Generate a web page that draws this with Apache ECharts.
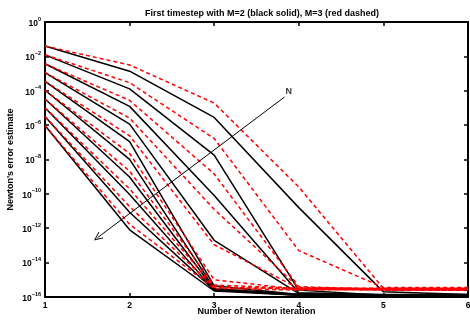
<!DOCTYPE html>
<html>
<head>
<meta charset="utf-8">
<script src="https://cdn.jsdelivr.net/npm/echarts@6/dist/echarts.min.js"></script>
<style>
  html, body { margin: 0; padding: 0; background: #fff; }
  #chart { width: 470px; height: 320px; }
</style>
</head>
<body>
<div id="chart"></div>
<script>
// Newton iteration number (x axis)
const iterations = [1, 2, 3, 4, 5, 6]

// log10 of the error estimate, one row per N (top row = smallest N)
const blackLog10 = [
  [-1.40, -2.86, -5.55, -10.8, -15.7, -15.85],
  [-1.91, -3.89, -7.75, -15.6, -15.9, -15.9],
  [-2.43, -4.91, -10.1, -15.75, -15.85, -15.85],
  [-2.94, -5.94, -12.7, -15.8, -15.95, -15.95],
  [-3.45, -6.96, -15.35, -15.85, -15.9, -15.9],
  [-3.97, -7.99, -15.5, -15.85, -15.95, -15.95],
  [-4.48, -9.02, -15.55, -15.9, -15.9, -15.9],
  [-4.99, -10.04, -15.6, -15.85, -15.95, -15.95],
  [-5.50, -11.07, -15.6, -15.9, -15.9, -15.9],
  [-6.02, -12.09, -15.65, -15.9, -15.95, -15.95],
]
const redLog10 = [
  [-1.40, -2.50, -4.72, -9.6, -15.5, -15.5],
  [-1.91, -3.53, -6.78, -13.3, -15.45, -15.45],
  [-2.43, -4.56, -8.84, -15.4, -15.55, -15.55],
  [-2.94, -5.59, -10.9, -15.45, -15.5, -15.5],
  [-3.45, -6.62, -12.96, -15.5, -15.6, -15.6],
  [-3.97, -7.65, -15.0, -15.55, -15.5, -15.5],
  [-4.48, -8.68, -15.3, -15.5, -15.55, -15.55],
  [-4.99, -9.71, -15.4, -15.55, -15.6, -15.6],
  [-5.50, -10.74, -15.45, -15.5, -15.5, -15.5],
  [-6.02, -11.77, -15.5, -15.6, -15.55, -15.55],
]

// "N" arrow annotation: [iteration, log10 error]
const arrowFrom = [3.83, -4.37]
const arrowTo = [1.62, -12.55]
const arrowLabelAt = [3.88, -4.05]

const xTicks = [1, 2, 3, 4, 5, 6]
const yTickExps = [0, -2, -4, -6, -8, -10, -12, -14, -16]

const font = '"Liberation Sans", Arial, Helvetica, sans-serif'
const toPoints = (row) => row.map((e, i) => [iterations[i], Math.pow(10, e)])

const series = []
blackLog10.forEach((row, k) => {
  series.push({
    name: 'M=2 #' + (k + 1),
    type: 'line',
    data: toPoints(row),
    symbol: 'none',
    lineStyle: { color: '#000', width: 1.5 },
    z: 3,
  })
  series.push({
    name: 'M=3 #' + (k + 1),
    type: 'line',
    data: toPoints(redLog10[k]),
    symbol: 'none',
    lineStyle: { color: '#ff0000', width: 1.5, type: [4, 3] },
    z: 4,
  })
})

// arrow + N label
series.push({
  name: 'N',
  type: 'scatter',
  data: [[arrowLabelAt[0], Math.pow(10, arrowLabelAt[1])]],
  symbolSize: 0,
  label: {
    show: true,
    formatter: 'N',
    position: 'inside',
    color: '#000',
    fontFamily: font,
    fontWeight: 'bold',
    fontSize: 9,
  },
  markLine: {
    silent: true,
    symbol: ['none', 'path://M0,12 L6,0 L12,12 L10.5,12 L6,3 L1.5,12 Z'],
    symbolSize: [8, 9],
    label: { show: false },
    lineStyle: { color: '#000', width: 1, type: 'solid' },
    data: [[
      { coord: [arrowFrom[0], Math.pow(10, arrowFrom[1])] },
      { coord: [arrowTo[0], Math.pow(10, arrowTo[1])] },
    ]],
  },
  z: 5,
})

const chart = echarts.init(document.getElementById('chart'), null, { renderer: 'canvas' })

const tickStyle = { show: true, inside: true, length: 4, lineStyle: { color: '#000', width: 1.5 } }
const lineStyle = { show: true, lineStyle: { color: '#000', width: 2 } }

chart.setOption({
  animation: false,
  backgroundColor: '#fff',
  title: {
    text: 'First timestep with M=2 (black solid), M=3 (red dashed)',
    left: 257,
    textAlign: 'center',
    top: 4,
    textStyle: { fontFamily: font, fontWeight: 'bold', fontSize: 9, color: '#000' },
  },
  grid: { left: 45, right: 2, top: 22, bottom: 23, containLabel: false, outerBoundsMode: 'none' },
  xAxis: [
    {
      type: 'value',
      min: 1,
      max: 6,
      interval: 1,
      name: 'Number of Newton iteration',
      nameLocation: 'middle',
      nameGap: 10,
      nameMoveOverlap: false,
      nameTextStyle: { fontFamily: font, fontWeight: 'bold', fontSize: 9, color: '#000' },
      axisLine: lineStyle,
      axisTick: tickStyle,
      splitLine: { show: false },
      axisLabel: {
        fontFamily: font,
        fontWeight: 'bold',
        fontSize: 8.5,
        color: '#000',
        margin: 4,
        formatter: (v) => (xTicks.includes(v) ? String(v) : ''),
      },
    },
    {
      type: 'value',
      position: 'top',
      min: 1,
      max: 6,
      interval: 1,
      axisLine: lineStyle,
      axisTick: tickStyle,
      axisLabel: { show: false },
      splitLine: { show: false },
    },
  ],
  yAxis: [
    {
      type: 'log',
      logBase: 10,
      min: 1e-16,
      max: 1,
      interval: 2,
      name: "Newton's error estimate",
      nameLocation: 'middle',
      nameGap: 30,
      nameMoveOverlap: false,
      nameTextStyle: { fontFamily: font, fontWeight: 'bold', fontSize: 9, color: '#000' },
      axisLine: lineStyle,
      axisTick: tickStyle,
      splitLine: { show: false },
      axisLabel: {
        margin: 4,
        formatter: (v) => {
          const e = Math.round(Math.log10(v))
          if (!yTickExps.includes(e)) return ''
          return '{b|10}{s|' + (e < 0 ? '\u2212' + -e : e) + '}'
        },
        rich: {
          b: { fontFamily: font, fontWeight: 'bold', fontSize: 8.5, color: '#000', lineHeight: 12, verticalAlign: 'bottom' },
          s: { fontFamily: font, fontWeight: 'bold', fontSize: 5.5, color: '#000', lineHeight: 12, verticalAlign: 'top' },
        },
      },
    },
    {
      type: 'log',
      logBase: 10,
      position: 'right',
      min: 1e-16,
      max: 1,
      interval: 2,
      axisLine: lineStyle,
      axisTick: tickStyle,
      axisLabel: { show: false },
      splitLine: { show: false },
    },
  ],
  series,
})
</script>
</body>
</html>
